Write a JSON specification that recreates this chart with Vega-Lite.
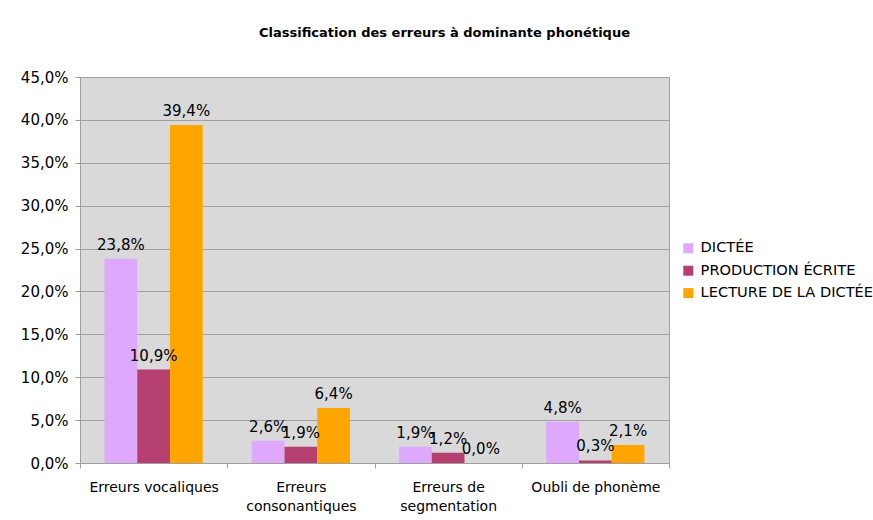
{
  "$schema": "https://vega.github.io/schema/vega-lite/v6.json",
  "autosize": "none",
  "width": 589,
  "height": 386,
  "padding": {"left": 80, "top": 77, "right": 204, "bottom": 57},
  "background": "white",
  "title": {
    "text": "Classification des erreurs à dominante phonétique",
    "font": "DejaVu Sans",
    "fontSize": 13,
    "fontWeight": "bold",
    "color": "black",
    "anchor": "middle",
    "dx": 70,
    "offset": 30
  },
  "data": {
    "values": [
      {"categorie": "Erreurs vocaliques", "serie": "DICTÉE", "valeur": 0.238},
      {"categorie": "Erreurs vocaliques", "serie": "PRODUCTION ÉCRITE", "valeur": 0.109},
      {"categorie": "Erreurs vocaliques", "serie": "LECTURE DE LA DICTÉE", "valeur": 0.394},
      {"categorie": "Erreurs consonantiques", "serie": "DICTÉE", "valeur": 0.026},
      {"categorie": "Erreurs consonantiques", "serie": "PRODUCTION ÉCRITE", "valeur": 0.019},
      {"categorie": "Erreurs consonantiques", "serie": "LECTURE DE LA DICTÉE", "valeur": 0.064},
      {"categorie": "Erreurs de segmentation", "serie": "DICTÉE", "valeur": 0.019},
      {"categorie": "Erreurs de segmentation", "serie": "PRODUCTION ÉCRITE", "valeur": 0.012},
      {"categorie": "Erreurs de segmentation", "serie": "LECTURE DE LA DICTÉE", "valeur": 0.0},
      {"categorie": "Oubli de phonème", "serie": "DICTÉE", "valeur": 0.048},
      {"categorie": "Oubli de phonème", "serie": "PRODUCTION ÉCRITE", "valeur": 0.003},
      {"categorie": "Oubli de phonème", "serie": "LECTURE DE LA DICTÉE", "valeur": 0.021}
    ]
  },
  "encoding": {
    "x": {
      "field": "categorie",
      "type": "nominal",
      "sort": ["Erreurs vocaliques", "Erreurs consonantiques", "Erreurs de segmentation", "Oubli de phonème"],
      "scale": {"paddingInner": 0, "paddingOuter": 0},
      "axis": {
        "title": null,
        "labelAngle": 0,
        "labelFont": "DejaVu Sans",
        "labelFontSize": 14,
        "labelColor": "black",
        "labelPadding": 12,
        "labelLineHeight": 19,
        "labelExpr": "datum.value == 'Erreurs consonantiques' ? ['Erreurs', 'consonantiques'] : datum.value == 'Erreurs de segmentation' ? ['Erreurs de', 'segmentation'] : datum.value",
        "tickBand": "extent",
        "tickSize": 5,
        "tickColor": "#a0a0a0",
        "domainColor": "#a0a0a0",
        "grid": false
      }
    },
    "xOffset": {
      "field": "serie",
      "type": "nominal",
      "sort": ["DICTÉE", "PRODUCTION ÉCRITE", "LECTURE DE LA DICTÉE"],
      "scale": {"paddingInner": 0, "paddingOuter": 0.75}
    },
    "y": {
      "field": "valeur",
      "type": "quantitative",
      "scale": {"domain": [0, 0.45], "nice": false},
      "axis": {
        "title": null,
        "values": [0, 0.05, 0.1, 0.15, 0.2, 0.25, 0.3, 0.35, 0.4, 0.45],
        "format": ".1%",
        "labelFont": "DejaVu Sans",
        "labelFontSize": 15,
        "labelColor": "black",
        "labelPadding": 7,
        "tickSize": 5,
        "tickColor": "#a0a0a0",
        "domainColor": "#a0a0a0",
        "grid": true,
        "gridColor": "#a0a0a0",
        "gridWidth": 1
      }
    }
  },
  "layer": [
    {
      "mark": {"type": "bar"},
      "encoding": {
        "color": {
          "field": "serie",
          "type": "nominal",
          "sort": ["DICTÉE", "PRODUCTION ÉCRITE", "LECTURE DE LA DICTÉE"],
          "scale": {
            "domain": ["DICTÉE", "PRODUCTION ÉCRITE", "LECTURE DE LA DICTÉE"],
            "range": ["#dea8fd", "#b5406f", "#ffa500"]
          },
          "legend": {
            "title": null,
            "orient": "none",
            "legendX": 601,
            "legendY": 164,
            "symbolType": "square",
            "symbolSize": 100,
            "symbolStrokeWidth": 0,
            "symbolOpacity": 1,
            "labelFont": "DejaVu Sans",
            "labelFontSize": 14.6,
            "labelColor": "black",
            "labelOffset": 5,
            "labelLimit": 300,
            "rowPadding": 7.4
          }
        }
      }
    },
    {
      "mark": {"type": "text", "baseline": "alphabetic", "dy": -9, "font": "DejaVu Sans", "fontSize": 15, "color": "black"},
      "encoding": {
        "text": {"field": "valeur", "type": "quantitative", "format": ".1%"}
      }
    }
  ],
  "config": {
    "locale": {
      "number": {"decimal": ",", "thousands": " ", "grouping": [3], "currency": ["", " €"]}
    },
    "view": {"fill": "#d9d9d9", "stroke": "#a0a0a0"}
  }
}
